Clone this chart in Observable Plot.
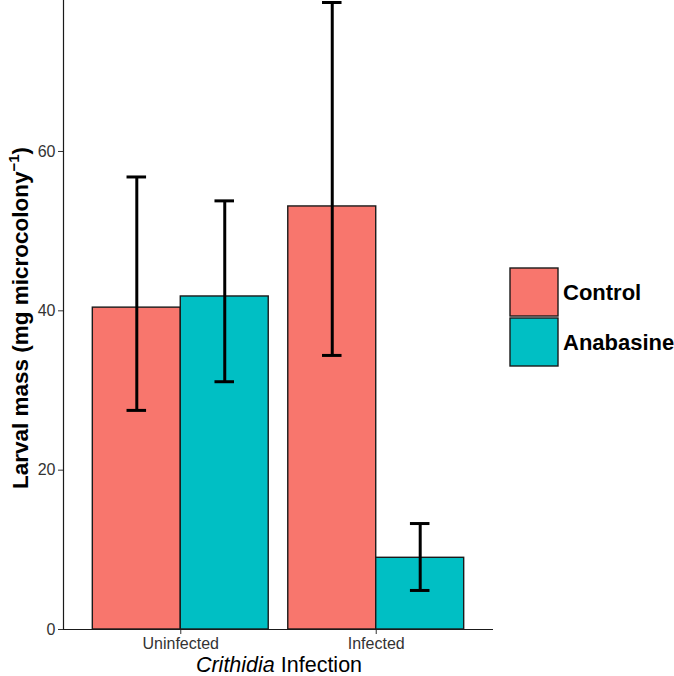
<!DOCTYPE html>
<html>
<head>
<meta charset="utf-8">
<script src="https://cdn.jsdelivr.net/npm/d3@7"></script>
<script src="https://cdn.jsdelivr.net/npm/@observablehq/plot@0.6"></script>
<style>
  html, body { margin: 0; padding: 0; background: #fff; }
  #chart { width: 674px; height: 676px; }
</style>
</head>
<body>
<div id="chart"></div>
<script>
const groups = ["Uninfected", "Infected"];
const treatments = ["Control", "Anabasine"];
const colors = ["#F8766D", "#00BFC4"];
const meanControl = [40.4, 53.1];
const meanAnabasine = [41.8, 9.0];
const lowerControl = [27.5, 34.4];
const upperControl = [56.8, 78.7];
const lowerAnabasine = [31.1, 4.9];
const upperAnabasine = [53.8, 13.3];
const yTicks = [0, 20, 40, 60];

const means = [meanControl, meanAnabasine];
const lows = [lowerControl, lowerAnabasine];
const highs = [upperControl, upperAnabasine];

const data = groups.flatMap((g, i) => treatments.map((t, j) => ({
  group: g, gi: i + 1, treatment: t, ti: j,
  mean: means[j][i], lo: lows[j][i], hi: highs[j][i]
})));

const dodge = 0.45;
const center = d => d.gi + (d.ti - 0.5) * dodge;
const font = "'Liberation Sans', Arial, Helvetica, sans-serif";

const svg = Plot.plot({
  width: 674,
  height: 676,
  marginLeft: 63,
  marginRight: 181,
  marginTop: 0,
  marginBottom: 47,
  style: { fontFamily: font, fontSize: "16px", background: "#fff", overflow: "visible" },
  x: { domain: [0.4, 2.6] },
  y: { domain: [0, 78.95] },
  color: { domain: treatments, range: colors },
  marks: [
    Plot.rect(data, {
      x1: d => d.gi + (d.ti - 1) * dodge,
      x2: d => d.gi + d.ti * dodge,
      y1: 0, y2: "mean",
      fill: "treatment", stroke: "#1a1a1a", strokeWidth: 1.4
    }),
    Plot.ruleX(data, { x: center, y1: "lo", y2: "hi", stroke: "#000", strokeWidth: 3 }),
    Plot.ruleY(data, { y: "hi", x1: d => center(d) - 0.05, x2: d => center(d) + 0.05, stroke: "#000", strokeWidth: 3 }),
    Plot.ruleY(data, { y: "lo", x1: d => center(d) - 0.05, x2: d => center(d) + 0.05, stroke: "#000", strokeWidth: 3 }),
    Plot.axisY({ ticks: yTicks, tickSize: 5, tickPadding: 3, label: null, fontSize: 16, color: "#333" }),
    Plot.axisX({ ticks: [1, 2], tickFormat: d => groups[d - 1], tickSize: 5, tickPadding: 3, label: null, fontSize: 16, color: "#333" }),
    Plot.ruleY([0], { stroke: "#1a1a1a", strokeWidth: 1.2 }),
    Plot.ruleX([0.4], { stroke: "#1a1a1a", strokeWidth: 1.2 })
  ]
});

document.getElementById("chart").appendChild(svg);

const s = d3.select(svg);

// Y axis title with superscript
const yl = s.append("text")
  .attr("transform", "translate(28,318) rotate(-90)")
  .attr("text-anchor", "middle")
  .attr("font-family", font)
  .attr("font-weight", "bold")
  .attr("font-size", 22.5)
  .attr("fill", "#000");
yl.append("tspan").text("Larval mass (mg microcolony");
yl.append("tspan").attr("font-size", 15).attr("dy", -9).text("\u22121");
yl.append("tspan").attr("dy", 9).text(")");

// X axis title with italic genus
const xl = s.append("text")
  .attr("x", 279).attr("y", 672)
  .attr("text-anchor", "middle")
  .attr("font-family", font)
  .attr("font-size", 21.5)
  .attr("fill", "#000");
xl.append("tspan").attr("font-style", "italic").text("Crithidia");
xl.append("tspan").text(" Infection");

// Legend
const lg = s.append("g").attr("text-anchor", "start");
treatments.forEach((t, i) => {
  const y0 = 268 + i * 50;
  lg.append("rect")
    .attr("x", 510).attr("y", y0).attr("width", 48).attr("height", 48)
    .attr("fill", colors[i]).attr("stroke", "#1a1a1a").attr("stroke-width", 1.4);
  lg.append("text")
    .attr("x", 563).attr("y", y0 + 24)
    .attr("dy", "0.35em")
    .attr("text-anchor", "start")
    .attr("font-family", font)
    .attr("font-weight", "bold")
    .attr("font-size", 22)
    .attr("fill", "#000")
    .text(t);
});
</script>
</body>
</html>
